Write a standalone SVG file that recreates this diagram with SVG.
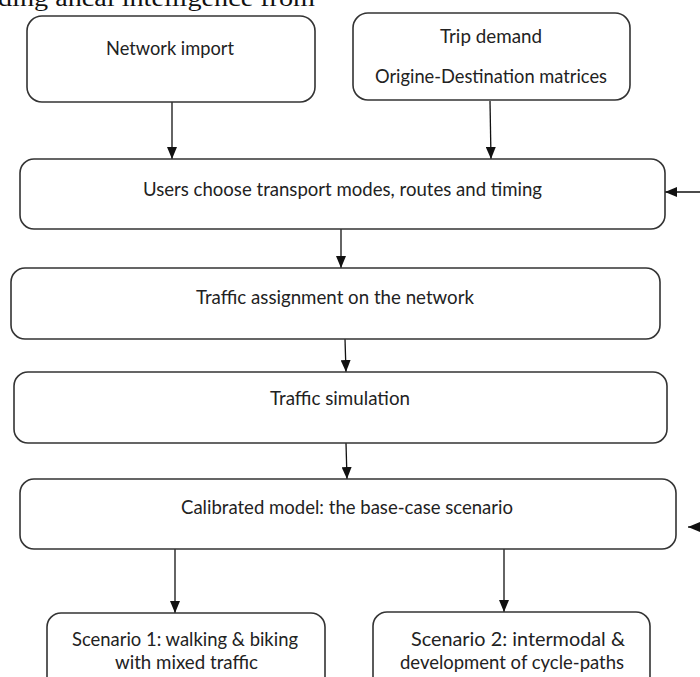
<svg xmlns="http://www.w3.org/2000/svg" width="700" height="677" viewBox="0 0 700 677">
<defs>
<style>
.box{fill:#fff;stroke:#333;stroke-width:1.6}
.lbl{font-family:Lato,"Open Sans","Liberation Sans",sans-serif;font-size:20px;fill:#222}
.cn{stroke:#111;stroke-width:1.3;fill:none}
.top{font-family:"Liberation Serif",serif;font-size:24px;fill:#111}
</style>
<marker id="ah" markerUnits="userSpaceOnUse" markerWidth="12" markerHeight="10" refX="12" refY="5" orient="auto">
<path d="M0,0 L12,5 L0,10 Z" fill="#111"/>
</marker>
</defs>
<rect width="700" height="677" fill="#fff"/>
<text class="top" x="-2" y="6" textLength="317" lengthAdjust="spacingAndGlyphs">ding ancal intelligence from</text>
<g id="connectors">
<path class="cn" d="M172,102 L172,159" marker-end="url(#ah)"/>
<path class="cn" d="M490,101 L491,159" marker-end="url(#ah)"/>
<path class="cn" d="M700,192 L665,192" marker-end="url(#ah)"/>
<path class="cn" d="M341,229 L341,268" marker-end="url(#ah)"/>
<path class="cn" d="M345,339 L346,372" marker-end="url(#ah)"/>
<path class="cn" d="M346,443 L347,479" marker-end="url(#ah)"/>
<path class="cn" d="M175,549 L175,613" marker-end="url(#ah)"/>
<path class="cn" d="M504,548 L504,612" marker-end="url(#ah)"/>
<path class="cn" d="M712,527 L688,527" marker-end="url(#ah)"/>
</g>
<g id="network-import">
<rect class="box" x="27" y="16" width="288" height="86" rx="15"/>
<text class="lbl" x="106" y="55" textLength="128" lengthAdjust="spacingAndGlyphs">Network import</text>
</g>
<g id="trip-demand">
<rect class="box" x="353" y="13" width="277" height="87" rx="15"/>
<text class="lbl" x="440" y="43" textLength="102" lengthAdjust="spacingAndGlyphs">Trip demand</text>
<text class="lbl" x="375" y="83" textLength="232" lengthAdjust="spacingAndGlyphs">Origine-Destination matrices</text>
</g>
<g id="users-choose">
<rect class="box" x="20" y="159" width="645" height="70" rx="14"/>
<text class="lbl" x="143" y="196" textLength="399" lengthAdjust="spacingAndGlyphs">Users choose transport modes, routes and timing</text>
</g>
<g id="traffic-assignment">
<rect class="box" x="11" y="268" width="649" height="71" rx="14"/>
<text class="lbl" x="196" y="304" textLength="278" lengthAdjust="spacingAndGlyphs">Traffic assignment on the network</text>
</g>
<g id="traffic-simulation">
<rect class="box" x="14" y="372" width="653" height="71" rx="14"/>
<text class="lbl" x="270" y="405" textLength="140" lengthAdjust="spacingAndGlyphs">Traffic simulation</text>
</g>
<g id="calibrated-model">
<rect class="box" x="20" y="479" width="656" height="70" rx="14"/>
<text class="lbl" x="181" y="514" textLength="332" lengthAdjust="spacingAndGlyphs">Calibrated model: the base-case scenario</text>
</g>
<g id="scenario-1">
<rect class="box" x="47" y="613" width="278" height="84" rx="14"/>
<text class="lbl" x="72" y="646" textLength="226" lengthAdjust="spacingAndGlyphs">Scenario 1: walking &amp; biking</text>
<text class="lbl" x="115" y="669" textLength="143" lengthAdjust="spacingAndGlyphs">with mixed traffic</text>
</g>
<g id="scenario-2">
<rect class="box" x="373" y="612" width="277" height="85" rx="14"/>
<text class="lbl" x="411" y="646" textLength="214" lengthAdjust="spacingAndGlyphs">Scenario 2: intermodal &amp;</text>
<text class="lbl" x="400" y="669" textLength="224" lengthAdjust="spacingAndGlyphs">development of cycle-paths</text>
</g>
</svg>
